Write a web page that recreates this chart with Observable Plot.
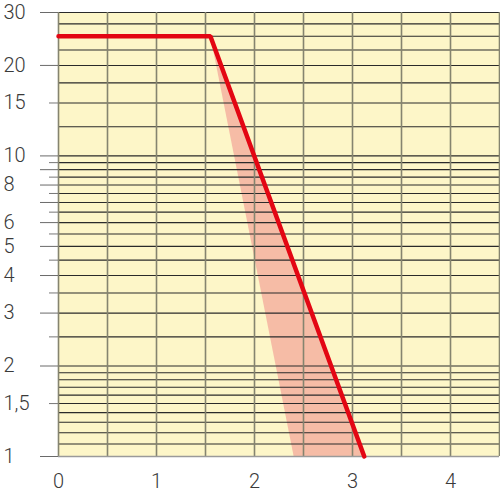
<!DOCTYPE html>
<html>
<head>
<meta charset="utf-8">
<script src="https://cdn.jsdelivr.net/npm/d3@7"></script>
<script src="https://cdn.jsdelivr.net/npm/@observablehq/plot@0.6"></script>
<style>
  html, body { margin: 0; padding: 0; background: #fff; }
  #chart { width: 500px; height: 500px; }
</style>
</head>
<body>
<div id="chart"></div>
<script>
// ---- data ----
const xGrid = [0, 0.5, 1, 1.5, 2, 2.5, 3, 3.5, 4, 4.5];
const xLabels = [0, 1, 2, 3, 4];
const yGrid = [1.1, 1.2, 1.3, 1.4, 1.5, 1.6, 1.7, 1.8, 1.9,
  2, 2.5, 3, 3.5, 4, 4.5, 5, 5.5, 6, 6.5, 7, 7.5, 8, 8.5, 9, 9.5, 10,
  12.5, 15, 17.5, 20, 22.5, 25, 27.5, 30];
const yLongTicks = [1, 2, 3, 4, 5, 6, 7, 8, 9, 10, 20, 30];
const yShortTicks = [1.5, 2.5, 3.5, 4.5, 5.5, 6.5, 7.5, 8.5, 9.5, 15];
const yLabels = [1, 1.5, 2, 3, 4, 5, 6, 8, 10, 15, 20, 30];
const curveX = [0, 1.55, 3.12];
const curveY = [25, 25, 1];
const bandX = [1.55, 3.12, 2.4];
const bandY = [25, 1, 1];

const curve = curveX.map((x, i) => ({x, y: curveY[i]}));
const band = bandX.map((x, i) => ({x, y: bandY[i]}));
const fmt = d => String(d).replace(".", ",");
const font = "Roboto, 'Open Sans', sans-serif";

const chart = Plot.plot({
  width: 500,
  height: 500,
  marginLeft: 58,
  marginRight: 1,
  marginTop: 12,
  marginBottom: 44,
  style: {fontFamily: font, fontSize: "20px", background: "#fff", color: "#333"},
  x: {domain: [0, 4.5]},
  y: {type: "log", domain: [1, 30]},
  marks: [
    Plot.frame({fill: "#fdf6c8", stroke: null}),
    Plot.line(band, {x: "x", y: "y", fill: "#f6bca6", stroke: null, z: null}),
    Plot.ruleY(yGrid, {y: d => d, stroke: "#2a2a2a", strokeWidth: 1.1}),
    Plot.ruleX(xGrid, {x: d => d, stroke: "#85846f", strokeWidth: 1.6}),
    Plot.ruleY([1], {y: d => d, stroke: "#9a9a9a", strokeWidth: 1.6}),
    Plot.axisY(yLongTicks, {tickSize: 18, tickFormat: () => "", stroke: "#6a6a6a", label: null}),
    Plot.axisY(yShortTicks, {tickSize: 9, tickFormat: () => "", stroke: "#777", label: null}),
    Plot.axisX([], {tickSize: 0, label: null}),
    Plot.text(yLabels, {y: d => d, text: fmt, frameAnchor: "left", textAnchor: "start", dx: -55,
      fontSize: 20, fontWeight: 300, fill: "#3a3a3a"}),
    Plot.text(xLabels, {x: d => d, text: d => String(d), frameAnchor: "bottom", dy: 31,
      fontSize: 20, fontWeight: 300, fill: "#3a3a3a"}),
    Plot.line(curve, {x: "x", y: "y", stroke: "#e30613", strokeWidth: 4.5, strokeLinejoin: "miter"})
  ]
});
document.getElementById("chart").appendChild(chart);
</script>
</body>
</html>
